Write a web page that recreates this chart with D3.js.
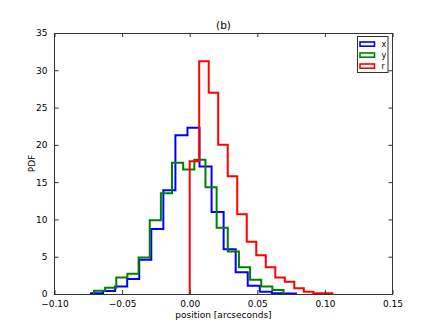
<!DOCTYPE html>
<html>
<head>
<meta charset="utf-8">
<script src="https://cdn.jsdelivr.net/npm/d3@7"></script>
<style>
  html, body { margin: 0; padding: 0; background: #fff; }
  svg { display: block; }
  text { font-family: "DejaVu Sans", sans-serif; fill: #000; }
</style>
</head>
<body>
<svg id="chart" width="436" height="327"></svg>
<script>
// ---- data ----
const seriesNames = ["x", "y", "r"];
const seriesColors = ["#0000ff", "#008000", "#ff0000"];

// histogram ranges (lo, hi) and bin heights (PDF)
const xRange = [-0.0730, 0.0786];
const xVals = [0.1, 0.4, 1.0, 2.0, 4.6, 8.7, 13.9, 21.3, 22.3, 17.1, 11.0, 6.0, 2.9, 1.1, 0.3, 0.1, 0.08];

const yRange = [-0.0708, 0.0694];
const yVals = [0.45, 0.85, 2.2, 2.7, 4.9, 9.9, 13.5, 17.6, 16.7, 18.0, 14.3, 8.9, 5.7, 3.6, 1.9, 1.0, 0.55];

const rRange = [0.0, 0.1055];
const rVals = [17.8, 31.2, 27.0, 20.0, 15.8, 10.7, 7.0, 5.2, 3.6, 2.2, 1.65, 0.76, 0.3, 0.09, 0.09];

const xTicks = [-0.10, -0.05, 0.00, 0.05, 0.10, 0.15];
const yTicks = [0, 5, 10, 15, 20, 25, 30, 35];

const titleText = "(b)";
const xLabel = "position [arcseconds]";
const yLabel = "PDF";

// ---- layout ----
const svg = d3.select("#chart");
const pLeft = 54.5, pRight = 392.5, pTop = 33, pBottom = 294;

const x = d3.scaleLinear().domain([-0.10, 0.15]).range([pLeft, pRight]);
const y = d3.scaleLinear().domain([0, 35]).range([pBottom, pTop]);

const clipId = "plotclip";
svg.append("defs").append("clipPath").attr("id", clipId)
  .append("rect").attr("x", pLeft).attr("y", pTop).attr("width", pRight - pLeft).attr("height", pBottom - pTop);

// build step outline for histtype='step'
function stepPoints(range, vals) {
  const n = vals.length;
  const w = (range[1] - range[0]) / n;
  const pts = [[range[0], 0]];
  vals.forEach((v, i) => {
    const a = range[0] + i * w, b = a + w;
    pts.push([a, v]); pts.push([b, v]);
  });
  pts.push([range[1], 0]);
  return pts;
}

const line = d3.line().x(d => x(d[0])).y(d => y(d[1]));
const allSeries = [
  { name: seriesNames[0], color: seriesColors[0], pts: stepPoints(xRange, xVals) },
  { name: seriesNames[1], color: seriesColors[1], pts: stepPoints(yRange, yVals) },
  { name: seriesNames[2], color: seriesColors[2], pts: stepPoints(rRange, rVals) }
];

const g = svg.append("g").attr("clip-path", `url(#${clipId})`);
allSeries.forEach(s => {
  g.append("path").datum(s.pts)
    .attr("d", line)
    .attr("fill", "none")
    .attr("stroke", s.color)
    .attr("stroke-width", 2)
    .attr("stroke-linejoin", "miter");
});

// ---- axes (ticks inside, on all four sides) ----
const tickLen = 4;
const frameColor = "#333";

const xAxisB = d3.axisBottom(x).tickValues(xTicks).tickSizeInner(-tickLen).tickSizeOuter(0)
  .tickPadding(7).tickFormat(d => d3.format(".2f")(d).replace("-", "\u2212"));
const xAxisT = d3.axisTop(x).tickValues(xTicks).tickSizeInner(-tickLen).tickSizeOuter(0).tickFormat("");
const yAxisL = d3.axisLeft(y).tickValues(yTicks).tickSizeInner(-tickLen).tickSizeOuter(0)
  .tickPadding(7).tickFormat(d3.format("d"));
const yAxisR = d3.axisRight(y).tickValues(yTicks).tickSizeInner(-tickLen).tickSizeOuter(0).tickFormat("");

function styleAxis(sel) {
  sel.select(".domain").remove();
  sel.selectAll(".tick line").attr("stroke", frameColor).attr("stroke-width", 1);
  sel.selectAll(".tick text").attr("font-size", 9).attr("fill", "#222")
    .attr("font-family", "DejaVu Sans, sans-serif");
}

svg.append("g").attr("transform", `translate(0,${pBottom})`).call(xAxisB).call(styleAxis);
svg.append("g").attr("transform", `translate(0,${pTop})`).call(xAxisT).call(styleAxis);
svg.append("g").attr("transform", `translate(${pLeft},0)`).call(yAxisL).call(styleAxis);
svg.append("g").attr("transform", `translate(${pRight},0)`).call(yAxisR).call(styleAxis);

// frame
svg.append("rect").attr("x", pLeft).attr("y", pTop + 0.5)
  .attr("width", pRight - pLeft).attr("height", pBottom - pTop)
  .attr("fill", "none").attr("stroke", frameColor).attr("stroke-width", 1);

// ---- texts ----
svg.append("text").attr("x", (pLeft + pRight) / 2).attr("y", 28.5)
  .attr("text-anchor", "middle").attr("font-size", 10.5).attr("fill", "#222").text(titleText);
svg.append("text").attr("x", (pLeft + pRight) / 2).attr("y", 317.5)
  .attr("text-anchor", "middle").attr("font-size", 9).attr("fill", "#222").text(xLabel);
svg.append("text").attr("transform", `translate(35,${(pTop + pBottom) / 2}) rotate(-90)`)
  .attr("text-anchor", "middle").attr("font-size", 9).attr("fill", "#222").text(yLabel);

// ---- legend ----
const lg = svg.append("g");
lg.append("rect").attr("x", 357.5).attr("y", 36.5).attr("width", 30.5).attr("height", 36)
  .attr("fill", "#fff").attr("stroke", frameColor).attr("stroke-width", 1);
allSeries.forEach((s, i) => {
  const cy = 44 + i * 11;
  lg.append("rect").attr("x", 360).attr("y", cy - 2).attr("width", 14.5).attr("height", 4.2)
    .attr("fill", "#fff").attr("stroke", s.color).attr("stroke-width", 1.6);
  lg.append("text").attr("x", 381.5).attr("y", cy + 2.5).attr("font-size", 8).attr("fill", "#222").text(s.name);
});
</script>
</body>
</html>
